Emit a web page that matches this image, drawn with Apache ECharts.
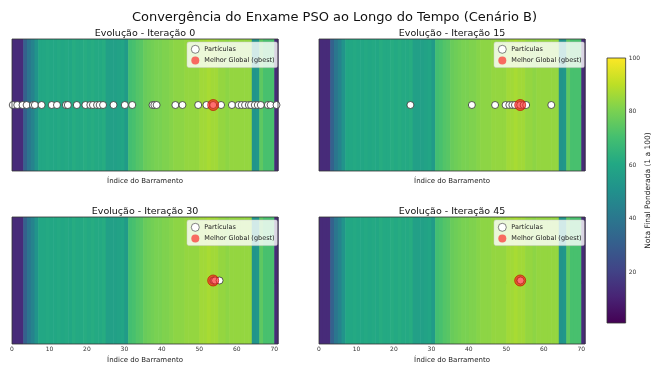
<!DOCTYPE html>
<html><head><meta charset="utf-8">
<script src="https://cdn.jsdelivr.net/npm/echarts@6/dist/echarts.min.js"></script>
<style>html,body{margin:0;padding:0;background:#fff}#c{width:653px;height:365px}</style>
</head><body><div id="c"></div>
<script>
// Score per bus (index 0..70)
const scores = [13,13,13,32,40,45,52,60,60,61,60,60,61,60,61,60,62,61,61,62,61,62,61,61,62,
  57,57,57,58,59,55,70,71,73,74,77,78,79,80,80,81,81,82,83,83,83,84,84,84,84,
  86,86,87,86,86,84,84,83,84,84,84,84,84,84,52,53,75,71,71,71,13];
const iterations = [0, 15, 30, 45];
const particlesIter0 = [0.2,1.4,2.8,3.9,5.6,6.1,7.9,10.6,12.0,14.4,14.9,17.3,19.6,20.9,21.6,22.7,23.4,24.3,27.1,30.1,32.1,37.5,38.0,38.6,43.6,45.5,49.7,51.9,53.7,55.8,58.7,60.5,61.3,62.2,63.2,63.8,64.8,65.6,66.4,68.3,69.0,70.6];
const particlesIter15 = [24.4,40.8,47.0,49.8,50.8,51.6,52.3,53.7,54.6,55.3,62.0];
const particlesIter30 = [53.7,53.9,54.2,55.4];
const particlesIter45 = [53.7,53.8];
const gbestX = [53.7, 53.7, 53.7, 53.7];
const xTicks = [0,10,20,30,40,50,60,70];
const cbTicks = [20,40,60,80,100];
const viridis = ['#440154','#482475','#414487','#355f8d','#2a788e','#21918c','#22a884','#44bf70','#7ad151','#bddf26','#fde725'];

const particles = [particlesIter0, particlesIter15, particlesIter30, particlesIter45];
const FONT = 'DejaVu Sans';
const panels = [{left:12,top:39},{left:319,top:39},{left:12,top:217},{left:319,top:217}];
const W = 266, H = 132;

const chart = echarts.init(document.getElementById('c'), null, {renderer:'canvas'});

const grids = panels.map(p => ({left:p.left, top:p.top, width:W, height:H, show:true, borderColor:'#333', borderWidth:0.8, backgroundColor:'transparent', z:5}));
grids.push({left:607, top:58, width:22, height:265, show:true, borderColor:'#333', borderWidth:0.8,
  backgroundColor: new echarts.graphic.LinearGradient(0,1,0,0, viridis.map((c,i)=>({offset:i/(viridis.length-1), color:c}))), z:5});

const xAxes = panels.map((p,i) => ({
  type:'value', gridIndex:i, min:0, max:71,
  axisLine:{show:false}, splitLine:{show:false},
  axisTick:{show:true, customValues:xTicks, length:3.5, lineStyle:{color:'#333', width:0.8}},
  axisLabel:{show:i>=2, customValues:xTicks, fontSize:6, margin:2.5, color:'#333', fontFamily:FONT},
  name:'Índice do Barramento', nameLocation:'middle', nameGap: i>=2 ? 13 : 7,
  nameTextStyle:{fontSize:7, color:'#222', fontFamily:FONT}
}));
xAxes.push({type:'value', gridIndex:4, min:0, max:1, show:false});

const yAxes = panels.map((p,i) => ({type:'value', gridIndex:i, min:-1, max:1, show:false}));
yAxes.push({type:'value', gridIndex:4, min:1, max:100, position:'right',
  axisLine:{show:false}, splitLine:{show:false},
  axisTick:{show:true, customValues:cbTicks, length:3, lineStyle:{color:'#333', width:0.8}},
  axisLabel:{show:true, customValues:cbTicks, fontSize:6, margin:3, color:'#333', fontFamily:FONT},
  name:'Nota Final Ponderada (1 a 100)', nameLocation:'middle', nameRotate:90, nameGap:15,
  nameTextStyle:{fontSize:7.5, color:'#222', fontFamily:FONT}
});

const series = [];
panels.forEach((p,i) => {
  series.push({
    type:'custom', xAxisIndex:i, yAxisIndex:i, silent:true, z:1,
    data: scores.map((v,k) => [k, v]),
    encode:{x:0, y:1},
    renderItem:(params, api) => {
      const x0 = api.value(0);
      const a = api.coord([x0, -1]);
      const b = api.coord([x0 + 1, 1]);
      return {type:'rect', shape:{x:a[0], y:b[1], width:b[0]-a[0]+0.6, height:a[1]-b[1]},
        style:{fill:api.visual('color')}};
    }
  });
});
panels.forEach((p,i) => {
  series.push({
    type:'scatter', name:'Partículas', xAxisIndex:i, yAxisIndex:i, z:3,
    data: particles[i].map(x => [x, 0]), symbolSize:7,
    itemStyle:{color:'#ffffff', borderColor:'#333', borderWidth:0.8, opacity:1}
  });
  series.push({
    type:'scatter', name:'Melhor Global (gbest)', xAxisIndex:i, yAxisIndex:i, z:4,
    data: [[gbestX[i], 0]], symbolSize:11,
    itemStyle:{color:'rgba(255,30,30,0.8)', borderColor:'#c00000', borderWidth:0.8}
  });
});

const titles = [{text:'Convergência do Enxame PSO ao Longo do Tempo (Cenário B)', left:334.5, top:11, textAlign:'center', padding:0,
  textStyle:{fontSize:13, fontWeight:'normal', color:'#111', fontFamily:FONT}}];
panels.forEach((p,i) => titles.push({text:'Evolução - Iteração ' + iterations[i], left:p.left + W/2, top:p.top - 10, textAlign:'center', padding:0,
  textStyle:{fontSize:9.5, fontWeight:'normal', color:'#111', fontFamily:FONT}}));

const legends = panels.map(p => ({
  left:p.left + 175, top:p.top + 3, orient:'vertical', itemGap:3, itemWidth:8, itemHeight:8,
  padding:[3,3,3,4], backgroundColor:'rgba(255,255,255,0.8)', borderColor:'#ccc', borderWidth:0.5, borderRadius:2,
  textStyle:{fontSize:6.5, color:'#222', fontFamily:FONT}, selectedMode:false,
  data:[{name:'Partículas', icon:'circle', itemStyle:{borderWidth:0.6, borderColor:'#333', color:'#fff'}},
        {name:'Melhor Global (gbest)', icon:'circle', itemStyle:{borderWidth:0, color:'rgba(255,40,40,0.85)'}}]
}));

chart.setOption({
  animation:false,
  backgroundColor:'#ffffff',
  title: titles,
  legend: legends,
  grid: grids,
  xAxis: xAxes,
  yAxis: yAxes,
  visualMap: {type:'continuous', show:false, min:1, max:100, dimension:1, seriesIndex:[0,1,2,3], inRange:{color:viridis}},
  series: series
});
</script></body></html>
